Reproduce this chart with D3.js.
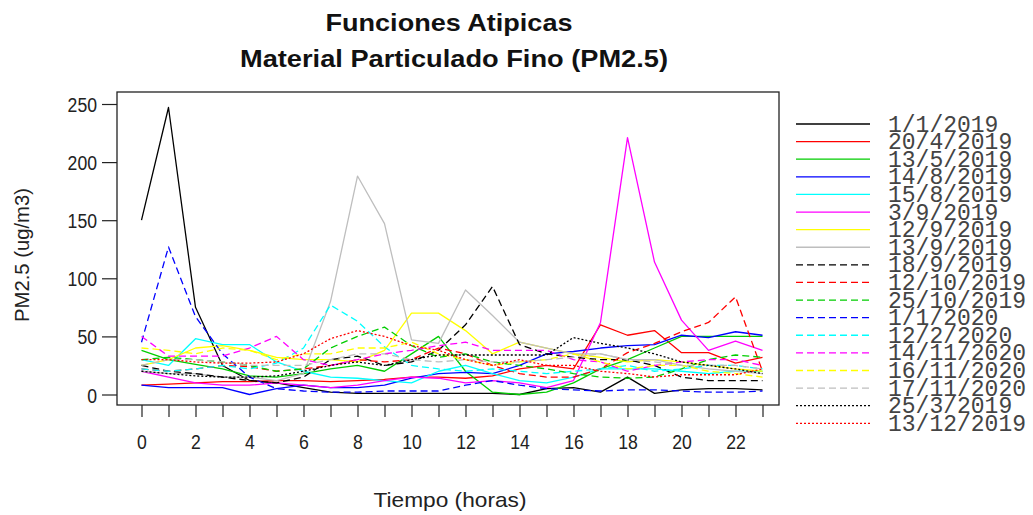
<!DOCTYPE html>
<html>
<head>
<meta charset="utf-8">
<script src="https://cdn.jsdelivr.net/npm/d3@7"></script>
<style>
  body { margin: 0; background: #fff; }
  text { font-family: "Liberation Sans", Arial, sans-serif; }
</style>
</head>
<body>
<svg id="chart" width="1033" height="515"></svg>
<script>
// Hourly PM2.5 concentrations (ug/m3) for atypical days
const hours = [0, 1, 2, 3, 4, 5, 6, 7, 8, 9, 10, 11, 12, 13, 14, 15, 16, 17, 18, 19, 20, 21, 22, 23];
const yTicks = [0, 50, 100, 150, 200, 250];

const d20190101 = [150, 247, 75, 25, 12, 10, 6, 2, 1, 1, 1, 1, 1, 1, 0, 5, 6, 2, 15, 1, 4, 5, 5, 4];
const d20190420 = [8, 9, 10, 11, 11, 12, 12, 11, 12, 13, 15, 15, 14, 16, 22, 25, 22, 60, 51, 55, 36, 36, 27, 32];
const d20190513 = [38, 30, 26, 22, 16, 15, 18, 22, 25, 20, 35, 50, 20, 2, 0, 2, 10, 22, 30, 40, 50, 50, 50, 50];
const d20190814 = [8, 6, 6, 6, 0, 5, 8, 6, 6, 8, 14, 18, 19, 18, 25, 35, 37, 40, 42, 43, 51, 49, 54, 51];
const d20190815 = [30, 25, 48, 43, 43, 28, 20, 15, 14, 12, 10, 20, 25, 18, 12, 10, 15, 22, 22, 22, 20, 18, 20, 20];
const d20190903 = [20, 15, 10, 8, 8, 10, 8, 6, 8, 12, 15, 14, 10, 12, 10, 6, 12, 62, 221, 114, 64, 38, 46, 38];
const d20190912 = [25, 30, 40, 42, 38, 32, 30, 30, 28, 38, 70, 70, 55, 35, 45, 40, 35, 32, 28, 30, 28, 25, 22, 20];
const d20190913 = [20, 18, 18, 15, 15, 12, 18, 80, 188, 147, 47, 44, 90, 68, 45, 40, 35, 35, 30, 30, 25, 22, 20, 18];
const d20190918 = [25, 20, 18, 15, 12, 10, 15, 30, 33, 25, 28, 38, 60, 93, 43, 35, 32, 30, 30, 25, 15, 12, 12, 12];
const d20191012 = [22, 20, 22, 25, 24, 20, 22, 25, 30, 28, 30, 40, 35, 25, 18, 15, 15, 22, 36, 44, 54, 62, 84, 20];
const d20191025 = [30, 32, 30, 28, 25, 20, 22, 40, 50, 58, 42, 32, 35, 28, 25, 22, 18, 15, 14, 15, 22, 30, 34, 32];
const d20200101 = [45, 127, 67, 35, 15, 5, 3, 2, 2, 3, 3, 3, 8, 12, 8, 5, 4, 3, 4, 4, 3, 2, 2, 3];
const d20200212 = [22, 20, 22, 25, 22, 27, 40, 77, 63, 41, 25, 22, 20, 22, 20, 18, 20, 22, 25, 20, 22, 25, 25, 22];
const d20201114 = [50, 33, 33, 33, 40, 50, 30, 25, 30, 35, 38, 42, 45, 38, 38, 38, 30, 28, 20, 25, 28, 30, 30, 25];
const d20201116 = [40, 38, 35, 40, 38, 30, 35, 35, 40, 40, 45, 35, 30, 25, 28, 30, 35, 28, 22, 25, 25, 20, 18, 15];
const d20201117 = [25, 30, 30, 28, 25, 25, 25, 30, 35, 35, 30, 28, 30, 28, 28, 30, 32, 35, 30, 28, 25, 25, 25, 22];
const d20190325 = [20, 18, 16, 15, 15, 16, 20, 25, 28, 25, 30, 34, 34, 34, 34, 34, 49, 44, 40, 35, 28, 25, 22, 18];
const d20191213 = [30, 30, 28, 27, 27, 28, 35, 48, 55, 50, 42, 38, 30, 25, 30, 25, 25, 20, 18, 15, 17, 17, 17, 22];

const seriesNames = ["1/1/2019", "20/4/2019", "13/5/2019", "14/8/2019", "15/8/2019", "3/9/2019",
  "12/9/2019", "13/9/2019", "18/9/2019", "12/10/2019", "25/10/2019", "1/1/2020", "12/2/2020",
  "14/11/2020", "16/11/2020", "17/11/2020", "25/3/2019", "13/12/2019"];
const seriesValues = [d20190101, d20190420, d20190513, d20190814, d20190815, d20190903,
  d20190912, d20190913, d20190918, d20191012, d20191025, d20200101, d20200212,
  d20201114, d20201116, d20201117, d20190325, d20191213];

// classic R palette, cycled; line type changes every 8 series
const palette = ["#000000", "#FF0000", "#00CD00", "#0000FF", "#00FFFF", "#FF00FF", "#FFFF00", "#BEBEBE"];
const dashes = [null, "7,4", "2,2"];

const series = seriesNames.map((name, i) => ({
  name,
  values: seriesValues[i],
  color: palette[i % 8],
  dash: dashes[Math.floor(i / 8)]
}));

const svg = d3.select("#chart");
const box = { left: 117, top: 92, right: 779, bottom: 405 };

const x = d3.scaleLinear().domain([0, 23]).range([141.5, 762.5]);
const y = d3.scaleLinear().domain([0, 250]).range([394.5, 104]);

svg.append("defs").append("clipPath").attr("id", "plotclip")
  .append("rect")
  .attr("x", box.left).attr("y", box.top)
  .attr("width", box.right - box.left).attr("height", box.bottom - box.top);

// series lines
const line = d3.line().x((d, i) => x(hours[i])).y(d => y(d));
svg.append("g").attr("clip-path", "url(#plotclip)")
  .selectAll("path").data(series).join("path")
  .attr("d", d => line(d.values))
  .attr("fill", "none")
  .attr("stroke", d => d.color)
  .attr("stroke-width", 1.3)
  .attr("stroke-dasharray", d => d.dash)
  .attr("stroke-linejoin", "round");

// plot frame
svg.append("rect")
  .attr("x", box.left).attr("y", box.top)
  .attr("width", box.right - box.left).attr("height", box.bottom - box.top)
  .attr("fill", "none").attr("stroke", "#222").attr("stroke-width", 1.3);

// x axis
const xAxis = svg.append("g")
  .attr("transform", `translate(0,${box.bottom})`)
  .call(d3.axisBottom(x).tickValues(hours).tickSize(12)
    .tickFormat(d => (d % 2 === 0 ? d : "")));
xAxis.select(".domain").remove();
xAxis.selectAll(".tick line").attr("stroke", "#222").attr("stroke-width", 1.2);
xAxis.selectAll(".tick text")
  .attr("y", 44.5).attr("dy", null)
  .attr("transform", "scale(0.84,1)")
  .attr("fill", "#222")
  .style("font-size", "21px");

// y axis
const yAxis = svg.append("g")
  .attr("transform", `translate(${box.left},0)`)
  .call(d3.axisLeft(y).tickValues(yTicks).tickSize(15));
yAxis.select(".domain").remove();
yAxis.selectAll(".tick line").attr("stroke", "#222").attr("stroke-width", 1.2);
yAxis.selectAll(".tick text")
  .attr("x", 0).attr("dy", "0.36em")
  .attr("transform", "translate(-20,0) scale(0.84,1)")
  .attr("fill", "#222")
  .style("font-size", "21px");

// titles
svg.append("text").attr("x", 449).attr("y", 30.5)
  .attr("text-anchor", "middle").attr("font-weight", "bold")
  .attr("textLength", 247).attr("lengthAdjust", "spacingAndGlyphs")
  .style("font-size", "24px").attr("fill", "#111")
  .text("Funciones Atipicas");
svg.append("text").attr("x", 454).attr("y", 66.5)
  .attr("text-anchor", "middle").attr("font-weight", "bold")
  .attr("textLength", 428).attr("lengthAdjust", "spacingAndGlyphs")
  .style("font-size", "24px").attr("fill", "#111")
  .text("Material Particulado Fino (PM2.5)");

// axis titles
svg.append("text").attr("x", 450).attr("y", 507)
  .attr("text-anchor", "middle")
  .attr("textLength", 153).attr("lengthAdjust", "spacingAndGlyphs")
  .style("font-size", "21px").attr("fill", "#222")
  .text("Tiempo (horas)");
svg.append("text")
  .attr("transform", "translate(29,255) rotate(-90)")
  .attr("text-anchor", "middle")
  .attr("textLength", 134).attr("lengthAdjust", "spacingAndGlyphs")
  .style("font-size", "21px").attr("fill", "#222")
  .text("PM2.5 (ug/m3)");

// legend
const legY = d3.scaleLinear().domain([0, 17]).range([124, 423.3]);
const leg = svg.append("g").selectAll("g").data(series).join("g")
  .attr("transform", (d, i) => `translate(0,${legY(i)})`);
leg.append("line")
  .attr("x1", 796).attr("x2", 870)
  .attr("stroke", d => d.color)
  .attr("stroke-width", 1.3)
  .attr("stroke-dasharray", d => d.dash);
leg.append("text")
  .attr("x", 888).attr("y", 7.5)
  .style("font-family", "'Liberation Mono', 'DejaVu Sans Mono', monospace")
  .style("font-size", "23px")
  .attr("fill", "#444")
  .text(d => d.name);
</script>
</body>
</html>
